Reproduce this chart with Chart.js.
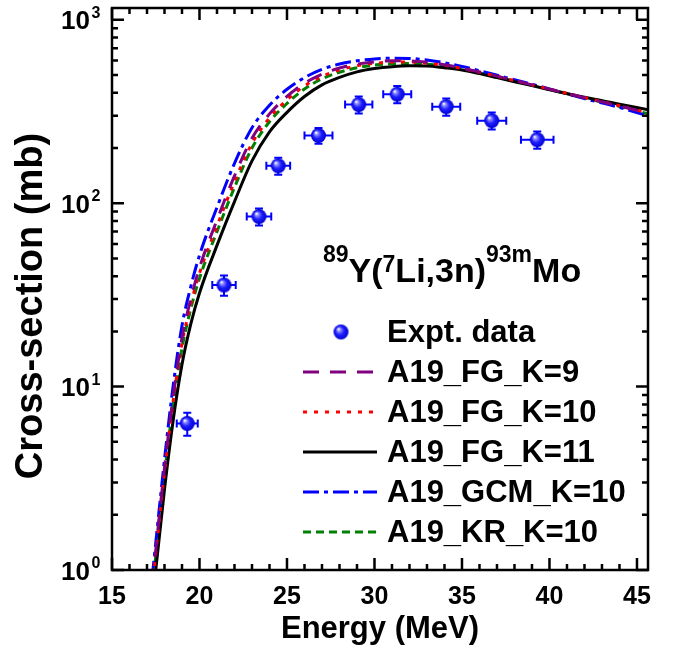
<!DOCTYPE html>
<html>
<head>
<meta charset="utf-8">
<script src="https://cdn.jsdelivr.net/npm/chart.js@4.4.0/dist/chart.umd.min.js"></script>
<style>
  html, body { margin: 0; padding: 0; background: #fff; }
  canvas { display: block; }
</style>
</head>
<body>
<canvas id="chart" width="675" height="651"></canvas>
<script>
// measured cross-sections with errors
const exptEnergy = [19.3, 21.4, 23.4, 24.5, 26.8, 29.1, 31.3, 34.1, 36.7, 39.3];
const exptEnergyErr = [0.6, 0.67, 0.7, 0.68, 0.8, 0.78, 0.8, 0.8, 0.83, 0.93];
const exptSigma = [6.3, 35.8, 84.6, 160, 234, 345, 393, 336, 282, 222];
const exptSigmaErr = [0.9, 4.5, 9, 17, 23, 37, 42, 36, 30, 24];

// calculated excitation functions
const calcEnergy = [17.3, 18, 18.5, 19, 19.5, 20, 21, 22, 23, 24, 25, 26, 27, 28, 29, 30, 31, 32, 33, 34, 35, 36, 37, 38, 39, 40, 42, 44, 45.7];
const fgK9  = [0.84, 3.6, 8.9, 18.4, 30, 44.5, 81, 141, 226, 307, 382, 451, 506, 546, 574, 590, 598, 597, 587, 569, 546, 520, 493, 467, 442, 419, 376, 339, 308];
const fgK10 = [0.8, 3.4, 8.4, 17.2, 28, 41.5, 75, 131, 212, 292, 366, 436, 492, 533, 562, 579, 588, 589, 580, 565, 543, 518, 492, 466, 442, 419, 377, 340, 309];
const fgK11 = [0.66, 2.75, 6.6, 13.2, 21.9, 32.4, 58.9, 102, 170, 245, 313, 382, 442, 485, 520, 542, 555, 561, 560, 548, 533, 509, 484, 460, 438, 416, 378, 347, 322];
const gcmK10 = [0.92, 4.0, 10.2, 21.5, 35, 52, 95, 165, 258, 342, 418, 484, 537, 574, 598, 612, 618, 616, 604, 583, 557, 528, 499, 471, 445, 420, 372, 333, 298];
const krK10 = [0.78, 3.3, 8.0, 16.2, 26.5, 39, 70, 122, 200, 278, 350, 420, 477, 518, 548, 566, 576, 578, 572, 558, 538, 513, 488, 463, 440, 417, 375, 337, 306];

const xTickLabels = [15, 20, 25, 30, 35, 40, 45];
const yTickPowers = [0, 1, 2, 3];

const FONT = '"Liberation Sans", Arial, sans-serif';

// shaded blue ball used as the data marker
function makeBall(r) {
  const c = document.createElement('canvas');
  c.width = c.height = 2 * r + 2;
  const g = c.getContext('2d');
  const m = r + 1;
  const grad = g.createRadialGradient(m - r * 0.35, m - r * 0.4, r * 0.05, m, m, r);
  grad.addColorStop(0, '#ffffff');
  grad.addColorStop(0.2, '#8c8cff');
  grad.addColorStop(0.55, '#1e1eff');
  grad.addColorStop(1, '#0000d0');
  g.fillStyle = grad;
  g.beginPath();
  g.arc(m, m, r, 0, Math.PI * 2);
  g.fill();
  return c;
}
const ball = makeBall(7.5);

function pairs(xs, ys) {
  return xs.map((x, i) => ({ x: x, y: ys[i] }));
}

function curve(label, values, color, dash) {
  return {
    label: label,
    data: pairs(calcEnergy, values),
    borderColor: color,
    borderWidth: 3,
    borderDash: dash,
    pointRadius: 0,
    fill: false,
    cubicInterpolationMode: 'monotone'
  };
}

const errorBars = {
  id: 'errorBars',
  beforeDatasetDraw(chart, args) {
    if (args.index !== 0) return;
    const xs = chart.scales.x, ys = chart.scales.y;
    const ctx = chart.ctx;
    ctx.save();
    ctx.strokeStyle = '#0000ff';
    ctx.lineWidth = 2;
    const cap = 4;
    exptEnergy.forEach((e, i) => {
      const px = xs.getPixelForValue(e);
      const py = ys.getPixelForValue(exptSigma[i]);
      const x0 = xs.getPixelForValue(e - exptEnergyErr[i]);
      const x1 = xs.getPixelForValue(e + exptEnergyErr[i]);
      const y0 = ys.getPixelForValue(exptSigma[i] - exptSigmaErr[i]);
      const y1 = ys.getPixelForValue(exptSigma[i] + exptSigmaErr[i]);
      ctx.beginPath();
      ctx.moveTo(x0, py); ctx.lineTo(x1, py);
      ctx.moveTo(x0, py - cap); ctx.lineTo(x0, py + cap);
      ctx.moveTo(x1, py - cap); ctx.lineTo(x1, py + cap);
      ctx.moveTo(px, y0); ctx.lineTo(px, y1);
      ctx.moveTo(px - cap, y0); ctx.lineTo(px + cap, y0);
      ctx.moveTo(px - cap, y1); ctx.lineTo(px + cap, y1);
      ctx.stroke();
    });
    ctx.restore();
  }
};

// frame with inward ticks, y labels, titles and legend
const decorations = {
  id: 'decorations',
  afterDraw(chart) {
    const ctx = chart.ctx;
    const xs = chart.scales.x, ys = chart.scales.y;
    const { left, right, top, bottom } = chart.chartArea;
    ctx.save();
    ctx.strokeStyle = '#000';
    ctx.fillStyle = '#000';
    ctx.lineWidth = 2.5;
    ctx.strokeRect(left, top, right - left, bottom - top);

    ctx.beginPath();
    for (let v = xTickLabels[0]; v <= xs.max; v++) {
      const px = xs.getPixelForValue(v);
      const len = v % 5 === 0 ? 12 : 6;
      ctx.moveTo(px, bottom); ctx.lineTo(px, bottom - len);
      ctx.moveTo(px, top); ctx.lineTo(px, top + len);
    }
    yTickPowers.forEach(p => {
      for (let m = 1; m <= 9; m++) {
        const v = m * Math.pow(10, p);
        if (v > ys.max) break;
        const py = ys.getPixelForValue(v);
        const len = m === 1 ? 12 : 6;
        ctx.moveTo(left, py); ctx.lineTo(left + len, py);
        ctx.moveTo(right, py); ctx.lineTo(right - len, py);
      }
    });
    ctx.stroke();

    // y tick labels as powers of ten
    yTickPowers.forEach(p => {
      const py = ys.getPixelForValue(Math.pow(10, p));
      ctx.font = 'bold 26px ' + FONT;
      ctx.textAlign = 'right';
      ctx.textBaseline = 'alphabetic';
      ctx.fillText('10', 90, py + 9.5);
      ctx.font = 'bold 16px ' + FONT;
      ctx.textAlign = 'left';
      ctx.fillText(String(p), 91.5, py - 2);
    });

    // y axis title
    ctx.save();
    ctx.translate(42, 306);
    ctx.rotate(-Math.PI / 2);
    ctx.font = 'bold 38px ' + FONT;
    ctx.textAlign = 'center';
    ctx.textBaseline = 'alphabetic';
    ctx.fillText('Cross-section (mb)', 0, 0);
    ctx.restore();

    // reaction label
    const runs = [
      ['89', 23, 262], ['Y(', 34, 282], ['7', 23, 272],
      ['Li,3n)', 34, 282], ['93m', 23, 262], ['Mo', 34, 282]
    ];
    let tx = 323;
    ctx.textAlign = 'left';
    runs.forEach(([t, size, base]) => {
      ctx.font = 'bold ' + size + 'px ' + FONT;
      ctx.fillText(t, tx, base);
      tx += ctx.measureText(t).width;
    });

    // legend
    ctx.font = 'bold 31px ' + FONT;
    chart.data.datasets.forEach((ds, i) => {
      const base = 342 + i * 40;
      const ly = base - 10;
      if (ds.showLine === false) {
        ctx.drawImage(ball, 341 - ball.width / 2, ly - ball.height / 2);
      } else {
        ctx.save();
        ctx.strokeStyle = ds.borderColor;
        ctx.lineWidth = ds.borderWidth;
        ctx.setLineDash(ds.borderDash || []);
        ctx.beginPath();
        ctx.moveTo(303, ly);
        ctx.lineTo(377, ly);
        ctx.stroke();
        ctx.restore();
      }
      ctx.fillStyle = '#000';
      ctx.fillText(ds.label, 387, base);
    });
    ctx.restore();
  }
};

const ctx = document.getElementById('chart').getContext('2d');
const chart = new Chart(ctx, {
  type: 'line',
  data: {
    datasets: [
      {
        label: 'Expt. data',
        data: pairs(exptEnergy, exptSigma),
        showLine: false,
        pointStyle: ball,
        pointRadius: 8,
        borderWidth: 0
      },
      curve('A19_FG_K=9', fgK9, '#800080', [16, 11]),
      curve('A19_FG_K=10', fgK10, '#ff0000', [4, 7]),
      curve('A19_FG_K=11', fgK11, '#000000', []),
      curve('A19_GCM_K=10', gcmK10, '#0000ff', [16, 5, 4, 5]),
      curve('A19_KR_K=10', krK10, '#008000', [8, 5])
    ]
  },
  options: {
    responsive: false,
    animation: false,
    devicePixelRatio: 1,
    layout: { padding: { top: 8, right: 27, left: 0, bottom: 0 } },
    plugins: { legend: { display: false }, tooltip: { enabled: false } },
    scales: {
      x: {
        type: 'linear',
        min: 15,
        max: 45.63,
        grid: { display: false, drawTicks: false },
        border: { display: false },
        afterBuildTicks: s => { s.ticks = xTickLabels.map(v => ({ value: v })); },
        afterFit: s => { s.height = 81; },
        ticks: {
          color: '#000',
          font: { family: FONT, size: 25, weight: 'bold' },
          padding: 12,
          maxRotation: 0,
          autoSkip: false
        },
        title: {
          display: true,
          text: 'Energy (MeV)',
          color: '#000',
          font: { family: FONT, size: 31, weight: 'bold' },
          padding: { top: 0, bottom: 3 }
        }
      },
      y: {
        type: 'logarithmic',
        min: 1,
        max: 1160,
        grid: { display: false, drawTicks: false },
        border: { display: false },
        ticks: { display: false },
        afterFit: s => { s.width = 112; }
      }
    }
  },
  plugins: [errorBars, decorations]
});
</script>
</body>
</html>
